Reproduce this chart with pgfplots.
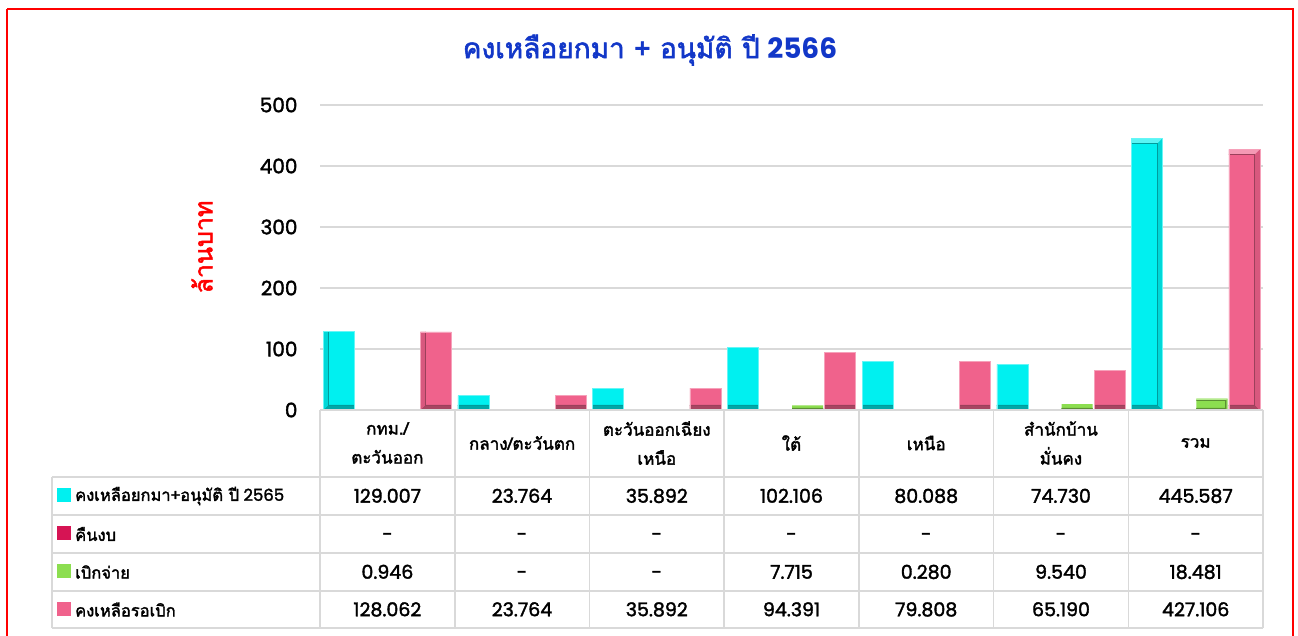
\documentclass[border=0pt]{standalone}
\usepackage{fontspec}
\usepackage{pgfplots}
\pgfplotsset{compat=1.18}
\setmainfont{Poppins}
\newfontfamily\thai[Script=Thai]{Loma}
\newfontfamily\thaib[Script=Thai,FakeBold=2]{Loma}
\newfontfamily\num[FakeBold=1.8]{Poppins}
\definecolor{cy}{RGB}{0,240,240}
\definecolor{cr}{RGB}{214,20,84}
\definecolor{gr}{RGB}{140,222,80}
\definecolor{pk}{RGB}{240,98,140}
\definecolor{gl}{RGB}{217,217,217}
\definecolor{tb}{RGB}{18,55,200}
\newif\ifbev
\tikzset{bevel/.style 2 args={path picture={\ifbev\else\bevtrue
  \coordinate (A) at (path picture bounding box.south west);
  \coordinate (B) at (path picture bounding box.north east);
  \fill[#1!70!black, draw=none] (A) -- (A-|B) -- ([shift={(-#2,#2)}]A-|B) -- ([shift={(#2,#2)}]A) -- cycle;
  \fill[#1!90!black, draw=none] (A) -- ([shift={(#2,#2)}]A) -- ([shift={(#2,-#2)}]A|-B) -- (A|-B) -- cycle;
  \fill[#1!90!black, draw=none] (A-|B) -- ([shift={(-#2,#2)}]A-|B) -- ([shift={(-#2,-#2)}]B) -- (B) -- cycle;
  \fill[#1!65!white, draw=none] (A|-B) -- ([shift={(#2,-#2)}]A|-B) -- ([shift={(-#2,-#2)}]B) -- (B) -- cycle;
  \draw[#1!65!black, line width=0.6pt, fill=none] ([shift={(#2,#2)}]A) rectangle ([shift={(-#2,-#2)}]B);
\fi}}}
\begin{document}
\begin{tikzpicture}
\path[use as bounding box] (0pt,0pt) rectangle (1298pt,635pt);
\fill[white] (0pt,0pt) rectangle (1298pt,635pt);
\begin{axis}[
  at={(320pt,225pt)}, anchor=south west,
  scale only axis, width=943pt, height=305pt,
  xmin=-0.5, xmax=6.5, ymin=0, ymax=500,
  ybar=1.4pt, bar width=31pt,
  axis line style={draw=none},
  ytick={0,100,...,500}, ymajorgrids,
  grid style={line width=1.6pt, gl},
  xtick={0,...,6},
  xticklabels={{กทม./\\ตะวันออก},{กลาง/ตะวันตก},{ตะวันออกเฉียง\\เหนือ},{ใต้},{เหนือ},{สำนักบ้าน\\มั่นคง},{รวม}},
  major tick length=0pt,
  /pgf/number format/assume math mode=true,
  yticklabel style={font=\num\fontsize{20}{20}\selectfont, xshift=-19pt},
  xticklabel style={font=\thaib\fontsize{17}{29}\selectfont, align=center, anchor=center, yshift=-33pt},
  clip=false,
]
\addplot[fill=cy, draw=cy!60!white, line width=0.5pt, bevel={cy}{5pt}] coordinates {(0,129.007) (1,23.764) (2,35.892) (3,102.106) (4,80.088) (5,74.730) (6,445.587)};
\addplot[fill=none, draw=none] coordinates {(0,0) (1,0) (2,0) (3,0) (4,0) (5,0) (6,0)};
\addplot[fill=gr, draw=none, bevel={gr}{2pt}] coordinates {(0,0.946) (1,0) (2,0) (3,7.715) (4,0.280) (5,9.540) (6,18.481)};
\addplot[fill=pk, draw=pk!60!white, line width=0.5pt, bevel={pk}{5pt}] coordinates {(0,128.062) (1,23.764) (2,35.892) (3,94.391) (4,79.808) (5,65.190) (6,427.106)};
\end{axis}
\begin{scope}[x=1pt,y=1pt]
  % table lines
  \draw[gl, line width=1.6pt] (320,225) -- (1263,225);
  \foreach \y in {158,120,82,44,7} \draw[gl, line width=1.6pt] (52,\y) -- (1263,\y);
  \draw[gl, line width=1.6pt] (52,158) -- (52,7);
  \foreach \x in {320,454.7,589.4,724.1,858.9,993.6,1128.3,1263} \draw[gl, line width=1.6pt] (\x,225) -- (\x,7);
  % row labels
  \fill[cy] (57,133) rectangle (71,147);
  \fill[cr] (57,95) rectangle (71,109);
  \fill[gr] (57,57) rectangle (71,71);
  \fill[pk] (57,19) rectangle (71,33);
  \node[anchor=west, inner sep=0pt] at (75,139) {\fontsize{16.5}{20}\selectfont{\thaib คงเหลือยกมา+อนุมัติ ปี} {\num 2565}};
  \node[anchor=west, inner sep=0pt] at (75,101) {\thaib\fontsize{16.5}{20}\selectfont คืนงบ};
  \node[anchor=west, inner sep=0pt] at (75,63) {\thaib\fontsize{16.5}{20}\selectfont เบิกจ่าย};
  \node[anchor=west, inner sep=0pt] at (75,25.5) {\thaib\fontsize{16.5}{20}\selectfont คงเหลือรอเบิก};
  % values
  \tikzset{val/.style={font=\num\fontsize{19}{20}\selectfont, text height=13.5pt, text depth=0pt, inner sep=0pt}}
  \foreach \x/\a/\b/\c in {387.4/129.007/0.946/128.062, 522/23.764/-/23.764, 656.8/35.892/-/35.892, 791.5/102.106/7.715/94.391, 926.2/80.088/0.280/79.808, 1061/74.730/9.540/65.190, 1195.7/445.587/18.481/427.106}{
    \node[val] at (\x,139) {\a};
    \node[val] at (\x,101) {-};
    \node[val] at (\x,63) {\b};
    \node[val] at (\x,25.5) {\c};
  }
  % title and axis label
  \node[tb] at (650,585) {\fontsize{28}{30}\selectfont{\thaib คงเหลือยกมา + อนุมัติ ปี} {\bfseries 2566}};
  \node[red, rotate=90] at (202,388) {\thaib\fontsize{25}{26}\selectfont ล้านบาท};
  % frame
  \draw[red, line width=2pt] (7,626) -- (1293,626) -- (1293,-10) (7,626) -- (7,-10);
\end{scope}
\end{tikzpicture}
\end{document}
